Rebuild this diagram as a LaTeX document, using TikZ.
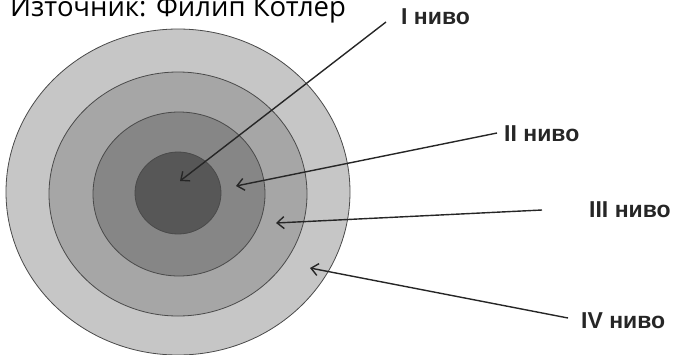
\documentclass[tikz,border=0pt]{standalone}
\usepackage{fontspec}
\setmainfont{Liberation Sans}
\newfontfamily\srcfont{Open Sans}
\usetikzlibrary{arrows.meta}
\definecolor{ringA}{HTML}{C6C6C6}
\definecolor{ringB}{HTML}{A6A6A6}
\definecolor{ringC}{HTML}{868686}
\definecolor{ringD}{HTML}{575757}
\definecolor{ringline}{HTML}{4A4A4A}
\tikzset{
  ring/.style={draw=ringline, line width=0.8pt},
  lbl/.style={anchor=west, inner sep=0pt, font=\bfseries\fontsize{23}{23}\selectfont, text=black!85},
  arr/.style={draw=black!85, line width=1.4pt, -{Straight Barb[length=7pt,width=12pt,line width=1.4pt]}},
}
\begin{document}
\begin{tikzpicture}[x=1pt,y=-1pt]
\path[use as bounding box] (0,0) rectangle (677,354);
\clip (0,0) rectangle (677,354);
% source text (cut off at top in the reference)
\node[anchor=base west, inner sep=0pt, font=\srcfont\fontsize{27.5}{27.5}\selectfont] (src) at (10,16) {Източник: Филип Котлер};
% rings
\path[ring, fill=ringA] (178,192) ellipse [x radius=172, y radius=163];
\path[ring, fill=ringB] (178,194) ellipse [x radius=129, y radius=122];
\path[ring, fill=ringC] (179,194) ellipse [x radius=86, y radius=82];
\path[ring, fill=ringD] (178,193) ellipse [x radius=43, y radius=41];
% labels
\node[lbl] (l1) at (401,17) {I ниво};
\node[lbl] (l2) at (504,134) {II ниво};
\node[lbl] (l3) at (589,210) {III ниво};
\node[lbl] (l4) at (581,321) {IV ниво};
% arrow ends
\coordinate (s1) at (386,22);
\coordinate (t1) at (180,181);
\coordinate (s2) at (497,133);
\coordinate (t2) at (236,186);
\coordinate (s3) at (542,210);
\coordinate (t3) at (276,223);
\coordinate (s4) at (568,318);
\coordinate (t4) at (310,268);
\draw[arr] (s1) -- (t1);
\draw[arr] (s2) -- (t2);
\draw[arr] (s3) -- (t3);
\draw[arr] (s4) -- (t4);
\end{tikzpicture}
\end{document}
